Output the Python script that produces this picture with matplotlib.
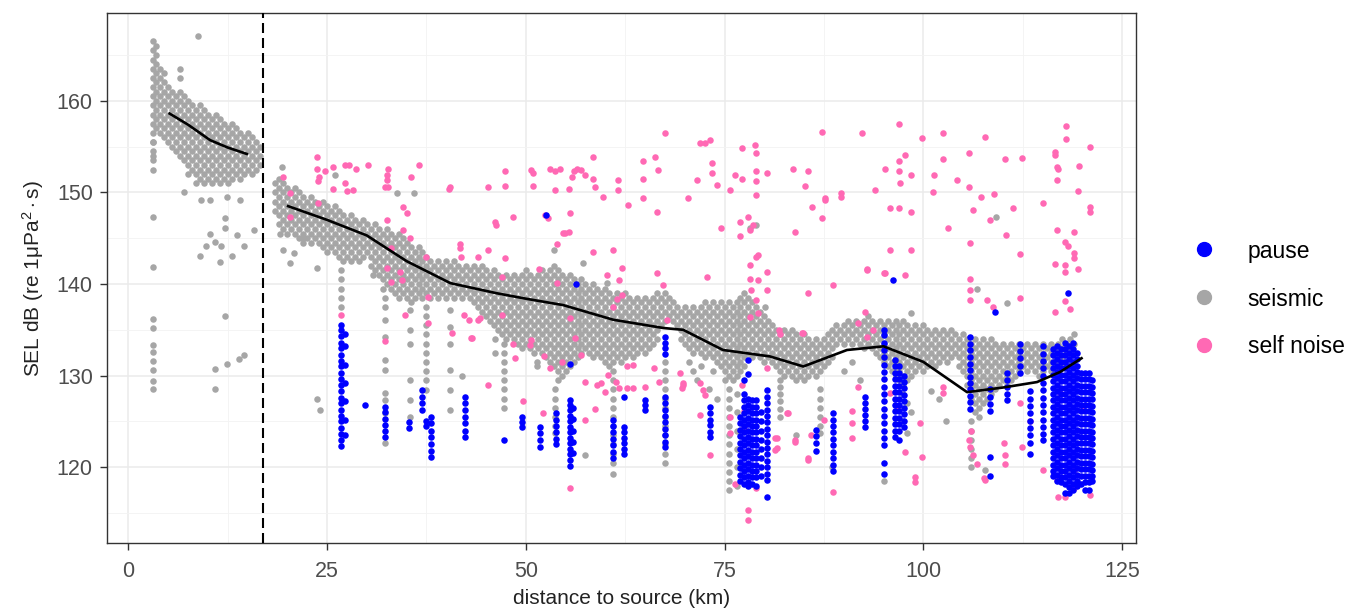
import matplotlib
matplotlib.use("Agg")
import matplotlib.pyplot as plt
from matplotlib.lines import Line2D

plt.rcParams["font.family"] = ["Liberation Sans", "DejaVu Sans"]
plt.rcParams["mathtext.fontset"] = "custom"
plt.rcParams["mathtext.rm"] = "Liberation Sans"
plt.rcParams["mathtext.it"] = "Liberation Sans:italic"

# ---- data ----
# seismic: dense band close to the source (x, [y values])
near_band = [
    (3.1, [166.5, 165.5, 164.5, 163.5, 162.5, 161.5, 160.5, 159.5, 158.5, 157.5, 156.5, 155.5, 154.5, 153.5, 152.5]),
    (3.5, [166, 165, 164, 163, 162, 161, 160, 159, 158, 157]),
    (4.0, [163.5, 162.5, 161.5, 160.5, 159.5, 158.5, 157.5, 156.5]),
    (4.5, [163, 162, 161, 160, 159, 158, 157, 156]),
    (5.0, [161.5, 160.5, 159.5, 158.5, 157.5, 156.5, 155.5]),
    (5.5, [161, 160, 159, 158, 157, 156, 155]),
    (6.0, [160.5, 159.5, 158.5, 157.5, 156.5, 155.5, 154.5]),
    (6.5, [163.5, 162.5, 161, 160, 159, 158, 157, 156, 155, 154]),
    (7.0, [160.5, 159.5, 158.5, 157.5, 156.5, 155.5, 154.5, 153.5]),
    (7.5, [160, 159, 158, 157, 156, 155, 154, 153, 152]),
    (8.0, [159.5, 158.5, 157.5, 156.5, 155.5, 154.5, 153.5, 152.5]),
    (8.5, [159, 158, 157, 156, 155, 154, 153, 152, 151]),
    (9.0, [159.5, 158.5, 157.5, 156.5, 155.5, 154.5, 153.5, 152.5, 151.5]),
    (9.5, [159, 158, 157, 156, 155, 154, 153, 152, 151]),
    (10.0, [158.5, 157.5, 156.5, 155.5, 154.5, 153.5, 152.5, 151.5]),
    (10.5, [158, 157, 156, 155, 154, 153, 152, 151]),
    (11.0, [158.5, 157.5, 156.5, 155.5, 154.5, 153.5, 152.5, 151.5]),
    (11.5, [158, 157, 156, 155, 154, 153, 152, 151]),
    (12.0, [157.5, 156.5, 155.5, 154.5, 153.5, 152.5, 151.5]),
    (12.5, [157, 156, 155, 154, 153, 152, 151]),
    (13.0, [157.5, 156.5, 155.5, 154.5, 153.5, 152.5, 151.5]),
    (13.5, [157, 156, 155, 154, 153, 152]),
    (14.0, [156.5, 155.5, 154.5, 153.5, 152.5, 151.5]),
    (14.5, [156, 155, 154, 153, 152]),
    (15.0, [156.5, 155.5, 154.5, 153.5, 152.5]),
    (15.5, [156, 155, 154, 153, 152]),
    (16.0, [155.5, 154.5, 153.5, 152.5]),
    (16.5, [155, 154, 153]),
]

# seismic: main band beyond the dashed line
far_band = [
    (18.5, [151, 150, 149, 148]), (19.0, [151.5, 150.5, 149.5, 148.5, 147.5, 146.5]),
    (19.5, [151, 150, 149, 148, 147, 146]), (20.0, [150.5, 149.5, 148.5, 147.5, 146.5, 145.5]),
    (20.5, [150, 149, 148, 147, 146]), (21.0, [150.5, 149.5, 148.5, 147.5, 146.5, 145.5]),
    (21.5, [150, 149, 148, 147, 146, 145]), (22.0, [149.5, 148.5, 147.5, 146.5, 145.5, 144.5]),
    (22.5, [149, 148, 147, 146, 145]), (23.0, [149.5, 148.5, 147.5, 146.5, 145.5, 144.5]),
    (23.5, [149, 148, 147, 146, 145]), (24.0, [148.5, 147.5, 146.5, 145.5, 144.5]),
    (24.5, [149, 148, 147, 146, 145, 144]), (25.0, [148.5, 147.5, 146.5, 145.5, 144.5, 143.5]),
    (25.5, [148, 147, 146, 145, 144]), (26.0, [148.5, 147.5, 146.5, 145.5, 144.5, 143.5]),
    (26.5, [148, 147, 146, 145, 144, 143]), (27.0, [147.5, 146.5, 145.5, 144.5, 143.5, 142.5]),
    (27.5, [147, 146, 145, 144, 143]), (28.0, [147.5, 146.5, 145.5, 144.5, 143.5, 142.5]),
    (28.5, [147, 146, 145, 144, 143]), (29.0, [146.5, 145.5, 144.5, 143.5, 142.5]),
    (29.5, [147, 146, 145, 144, 143]), (30.0, [146.5, 145.5, 144.5, 143.5]),
    (30.5, [146, 145, 144, 143, 142]), (31.0, [146.5, 145.5, 144.5, 143.5, 142.5, 141.5]),
    (31.5, [146, 145, 144, 143, 142, 141]), (32.0, [145.5, 144.5, 143.5, 142.5, 141.5, 140.5, 139.5]),
    (32.5, [146, 145, 144, 143, 142, 141, 140]), (33.0, [145.5, 144.5, 143.5, 142.5, 141.5, 140.5, 139.5]),
    (33.5, [145, 144, 143, 142, 141, 140, 139]), (34.0, [145.5, 144.5, 143.5, 142.5, 141.5, 140.5, 139.5, 138.5]),
    (34.5, [145, 144, 143, 142, 141, 140, 139]), (35.0, [144.5, 143.5, 142.5, 141.5, 140.5, 139.5, 138.5]),
    (35.5, [144, 143, 142, 141, 140, 139, 138]), (36.0, [143.5, 142.5, 141.5, 140.5, 139.5, 138.5]),
    (36.5, [144, 143, 142, 141, 140, 139]), (37.0, [143.5, 142.5, 141.5, 140.5, 139.5, 138.5]),
    (37.5, [143, 142, 141, 140, 139]), (38.0, [142.5, 141.5, 140.5, 139.5, 138.5]),
    (38.5, [142, 141, 140, 139]), (39.0, [142.5, 141.5, 140.5, 139.5, 138.5]),
    (39.5, [142, 141, 140, 139]), (40.0, [142.5, 141.5, 140.5, 139.5, 138.5]),
    (40.5, [142, 141, 140, 139]), (41.0, [142.5, 141.5, 140.5, 139.5, 138.5]),
    (41.5, [142, 141, 140, 139]), (42.0, [141.5, 140.5, 139.5, 138.5]),
    (42.5, [142, 141, 140, 139]), (43.0, [141.5, 140.5, 139.5, 138.5]),
    (43.5, [142, 141, 140, 139, 138]), (44.0, [141.5, 140.5, 139.5, 138.5, 137.5]),
    (44.5, [142, 141, 140, 139, 138, 137]), (45.0, [141.5, 140.5, 139.5, 138.5, 137.5, 136.5]),
    (45.5, [141, 140, 139, 138, 137, 136]), (46.0, [141.5, 140.5, 139.5, 138.5, 137.5, 136.5, 135.5]),
    (46.5, [141, 140, 139, 138, 137, 136, 135]), (47.0, [140.5, 139.5, 138.5, 137.5, 136.5, 135.5, 134.5]),
    (47.5, [141, 140, 139, 138, 137, 136, 135, 134]), (48.0, [140.5, 139.5, 138.5, 137.5, 136.5, 135.5, 134.5]),
    (48.5, [141, 140, 139, 138, 137, 136, 135, 134]), (49.0, [140.5, 139.5, 138.5, 137.5, 136.5, 135.5, 134.5, 133.5]),
    (49.5, [141, 140, 139, 138, 137, 136, 135, 134, 133]), (50.0, [141.5, 140.5, 139.5, 138.5, 137.5, 136.5, 135.5, 134.5, 133.5]),
    (50.5, [141, 140, 139, 138, 137, 136, 135, 134, 133]), (51.0, [140.5, 139.5, 138.5, 137.5, 136.5, 135.5, 134.5, 133.5, 132.5]),
    (51.5, [141, 140, 139, 138, 137, 136, 135, 134, 133]), (52.0, [141.5, 140.5, 139.5, 138.5, 137.5, 136.5, 135.5, 134.5, 133.5, 132.5]),
    (52.5, [141, 140, 139, 138, 137, 136, 135, 134, 133, 132]), (53.0, [141.5, 140.5, 139.5, 138.5, 137.5, 136.5, 135.5, 134.5, 133.5, 132.5, 131.5]),
    (53.5, [142, 141, 140, 139, 138, 137, 136, 135, 134, 133, 132, 131]),
    (54.0, [141.5, 140.5, 139.5, 138.5, 137.5, 136.5, 135.5, 134.5, 133.5, 132.5, 131.5, 130.5, 129.5]),
    (54.5, [141, 140, 139, 138, 137, 136, 135, 134, 133, 132, 131, 130]),
    (55.0, [140.5, 139.5, 138.5, 137.5, 136.5, 135.5, 134.5, 133.5, 132.5, 131.5, 130.5]),
    (55.5, [141, 140, 139, 138, 137, 136, 135, 134, 133, 132, 131]),
    (56.0, [140.5, 139.5, 138.5, 137.5, 136.5, 135.5, 134.5, 133.5, 132.5, 131.5]),
    (56.5, [140, 139, 138, 137, 136, 135, 134, 133, 132]),
    (57.0, [140.5, 139.5, 138.5, 137.5, 136.5, 135.5, 134.5, 133.5, 132.5]),
    (57.5, [140, 139, 138, 137, 136, 135, 134, 133]),
    (58.0, [139.5, 138.5, 137.5, 136.5, 135.5, 134.5, 133.5, 132.5]),
    (58.5, [140, 139, 138, 137, 136, 135, 134, 133, 132]),
    (59.0, [139.5, 138.5, 137.5, 136.5, 135.5, 134.5, 133.5, 132.5]),
    (59.5, [139, 138, 137, 136, 135, 134, 133, 132]),
    (60.0, [139.5, 138.5, 137.5, 136.5, 135.5, 134.5, 133.5, 132.5, 131.5]),
    (60.5, [139, 138, 137, 136, 135, 134, 133, 132, 131]),
    (61.0, [138.5, 137.5, 136.5, 135.5, 134.5, 133.5, 132.5, 131.5]),
    (61.5, [139, 138, 137, 136, 135, 134, 133, 132]),
    (62.0, [138.5, 137.5, 136.5, 135.5, 134.5, 133.5, 132.5, 131.5]),
    (62.5, [139, 138, 137, 136, 135, 134, 133, 132]),
    (63.0, [138.5, 137.5, 136.5, 135.5, 134.5, 133.5, 132.5]),
    (63.5, [138, 137, 136, 135, 134, 133, 132]),
    (64.0, [138.5, 137.5, 136.5, 135.5, 134.5, 133.5, 132.5]),
    (64.5, [138, 137, 136, 135, 134, 133]),
    (65.0, [138.5, 137.5, 136.5, 135.5, 134.5, 133.5, 132.5]),
    (65.5, [138, 137, 136, 135, 134, 133]),
    (66.0, [138.5, 137.5, 136.5, 135.5, 134.5, 133.5]),
    (66.5, [139, 138, 137, 136, 135, 134]),
    (67.0, [138.5, 137.5, 136.5, 135.5]), (67.5, [139, 138, 137, 136]),
    (68.0, [138.5, 137.5, 136.5]), (68.5, [138, 137, 136]),
    (69.0, [137.5, 136.5, 135.5]), (69.5, [137, 136, 135, 134]),
    (70.0, [137.5, 136.5, 135.5, 134.5, 133.5]), (70.5, [137, 136, 135, 134, 133]),
    (71.0, [137.5, 136.5, 135.5, 134.5, 133.5, 132.5]), (71.5, [137, 136, 135, 134, 133]),
    (72.0, [137.5, 136.5, 135.5, 134.5, 133.5, 132.5]), (72.5, [138, 137, 136, 135, 134, 133, 132]),
    (73.0, [137.5, 136.5, 135.5, 134.5, 133.5, 132.5]), (73.5, [138, 137, 136, 135, 134, 133, 132]),
    (74.0, [137.5, 136.5, 135.5, 134.5, 133.5, 132.5, 131.5]),
    (74.5, [138, 137, 136, 135, 134, 133, 132, 131]),
    (75.0, [137.5, 136.5, 135.5, 134.5, 133.5, 132.5, 131.5, 130.5, 129.5]),
    (75.5, [138, 137, 136, 135, 134, 133, 132, 131, 130]),
    (76.0, [137.5, 136.5, 135.5, 134.5, 133.5, 132.5, 131.5, 130.5, 129.5]),
    (76.5, [138, 137, 136, 135, 134, 133, 132, 131, 130]),
    (77.0, [138.5, 137.5, 136.5, 135.5, 134.5, 133.5, 132.5, 131.5, 130.5]),
    (77.5, [139, 138, 137, 136, 135, 134, 133, 132, 131]),
    (78.0, [138.5, 137.5, 136.5, 135.5, 134.5, 133.5, 132.5]),
    (78.5, [138, 137, 136, 135, 134, 133, 132]),
    (79.0, [137.5, 136.5, 135.5, 134.5, 133.5, 132.5]), (79.5, [137, 136, 135, 134, 133, 132]),
    (80.0, [136.5, 135.5, 134.5, 133.5, 132.5, 131.5]), (80.5, [136, 135, 134, 133, 132]),
    (81.0, [135.5, 134.5, 133.5, 132.5, 131.5]), (81.5, [135, 134, 133, 132, 131]),
    (82.0, [134.5, 133.5, 132.5, 131.5, 130.5]), (82.5, [135, 134, 133, 132, 131, 130]),
    (83.0, [134.5, 133.5, 132.5, 131.5, 130.5]), (83.5, [135, 134, 133, 132, 131, 130]),
    (84.0, [134.5, 133.5, 132.5, 131.5, 130.5, 129.5]), (84.5, [134, 133, 132, 131, 130]),
    (85.0, [134.5, 133.5, 132.5, 131.5, 130.5, 129.5]), (85.5, [134, 133, 132, 131, 130]),
    (86.0, [133.5, 132.5, 131.5, 130.5]), (86.5, [134, 133, 132, 131, 130]),
    (87.0, [133.5, 132.5, 131.5, 130.5]), (87.5, [134, 133, 132, 131]),
    (88.0, [134.5, 133.5, 132.5, 131.5]), (88.5, [135, 134, 133, 132]),
    (89.0, [135.5, 134.5, 133.5]), (89.5, [135, 134]),
    (90.0, [135.5, 134.5, 133.5]), (90.5, [136, 135, 134]),
    (91.0, [135.5, 134.5, 133.5]), (91.5, [136, 135, 134]),
    (92.0, [135.5, 134.5, 133.5]), (92.5, [136, 135, 134, 133]),
    (93.0, [136.5, 135.5, 134.5, 133.5]), (93.5, [136, 135, 134, 133]),
    (94.0, [135.5, 134.5, 133.5, 132.5]), (94.5, [136, 135, 134, 133, 132]),
    (95.0, [135.5, 134.5, 133.5, 132.5, 131.5]), (95.5, [136, 135, 134, 133, 132, 131]),
    (96.0, [135.5, 134.5, 133.5, 132.5, 131.5, 130.5]),
    (96.5, [136, 135, 134, 133, 132, 131, 130]),
    (97.0, [135.5, 134.5, 133.5, 132.5, 131.5, 130.5, 129.5]),
    (97.5, [136, 135, 134, 133, 132, 131, 130, 129]),
    (98.0, [135.5, 134.5, 133.5, 132.5, 131.5, 130.5, 129.5]),
    (98.5, [135, 134, 133, 132, 131, 130]),
    (99.0, [135.5, 134.5, 133.5, 132.5, 131.5, 130.5]), (99.5, [135, 134, 133, 132, 131]),
    (100.0, [135.5, 134.5, 133.5, 132.5, 131.5, 130.5]), (100.5, [135, 134, 133, 132, 131]),
    (101.0, [134.5, 133.5, 132.5, 131.5]), (101.5, [135, 134, 133, 132, 131]),
    (102.0, [134.5, 133.5, 132.5, 131.5]), (102.5, [135, 134, 133, 132]),
    (103.0, [134.5, 133.5, 132.5, 131.5]), (103.5, [135, 134, 133, 132]),
    (104.0, [134.5, 133.5, 132.5]), (104.5, [134, 133, 132, 131]),
    (105.0, [134.5, 133.5, 132.5, 131.5, 130.5]), (105.5, [134, 133, 132, 131, 130, 129]),
    (106.0, [133.5, 132.5, 131.5, 130.5, 129.5, 128.5, 127.5]),
    (106.5, [134, 133, 132, 131, 130, 129, 128, 127, 126]),
    (107.0, [133.5, 132.5, 131.5, 130.5, 129.5, 128.5, 127.5, 126.5, 125.5]),
    (107.5, [134, 133, 132, 131, 130, 129, 128, 127]),
    (108.0, [133.5, 132.5, 131.5, 130.5, 129.5, 128.5, 127.5]),
    (108.5, [134, 133, 132, 131, 130, 129, 128]),
    (109.0, [133.5, 132.5, 131.5, 130.5, 129.5, 128.5]), (109.5, [133, 132, 131, 130, 129]),
    (110.0, [133.5, 132.5, 131.5, 130.5, 129.5]), (110.5, [133, 132, 131, 130, 129]),
    (111.0, [133.5, 132.5, 131.5, 130.5, 129.5]), (111.5, [133, 132, 131, 130]),
    (112.0, [133.5, 132.5, 131.5, 130.5]), (112.5, [133, 132, 131]),
    (113.0, [133.5, 132.5, 131.5, 130.5]), (113.5, [133, 132, 131]),
    (114.0, [133.5, 132.5, 131.5, 130.5]), (114.5, [133, 132, 131, 130]),
    (115.0, [133.5, 132.5, 131.5, 130.5]), (115.5, [133, 132, 131]),
    (116.0, [133.5, 132.5, 131.5, 130.5]), (116.5, [133, 132, 131]),
    (117.0, [133.5, 132.5, 131.5, 130.5]), (117.5, [134, 133, 132, 131]),
    (118.0, [133.5, 132.5, 131.5]), (118.5, [134, 133, 132]),
    (119.0, [134.5, 133.5, 132.5, 131.5]),
]

# seismic: sparse vertical streaks below the band
seismic_streaks = [
    (3.1, [136.2, 135.2, 133.3, 132.6, 131.6, 130.6, 129.4, 128.5]),
    (26.8, [141.5, 140.5, 139.5, 138.5, 137.5]),
    (32.3, [138.5, 137.5, 136.1, 134.2, 131.7, 130.6, 128.1, 127.3, 125.9, 122.6]),
    (35.4, [137.2, 135.0, 133.5, 129.5, 127.3, 125.5]),
    (37.5, [137.5, 136.5, 135.5, 134.5, 133.5, 132.5, 131.5, 130.5, 129.5, 128.4]),
    (40.5, [137.2, 135.3, 133.5, 130.6, 128.4, 126.2]),
    (47.2, [133.5, 132.5, 131.5, 130.5, 129.5, 128.5, 127.5, 126.5]),
    (53.7, [128.5, 127.5, 126.5, 125.5, 124.5, 123.7]),
    (61.0, [130.5, 129.5, 128.5, 127.5, 126.5, 125.5, 124.5, 123.5, 122.5, 121.5, 120.5, 119.3]),
    (67.5, [131.5, 130.5, 129.5, 128.5, 127.5, 126.5, 125.5, 124.5, 123.5, 122.5, 121.5, 120.5]),
    (75.5, [128.5, 127.5, 126.5, 125.5, 124.5, 123.5, 122.5, 121.5, 120.5, 119.5, 118.5, 117.5]),
    (76.5, [128, 126, 124, 122, 120, 118]),
    (82.0, [129.5, 128.8, 128.0, 127.2, 126.4, 125.5]),
    (87.0, [128.5, 127.5, 126.5, 125.5, 124.5, 123.7]),
    (106.0, [125, 124, 123, 122, 121, 120]),
]

seismic_pts = [
    (8.8, 167.1), (7.0, 150.0), (3.1, 147.3), (3.1, 141.9), (3.1, 154.0), (3.1, 155.5),
    (9.2, 149.2), (10.3, 149.2), (12.4, 149.5), (14.1, 149.2), (12.2, 147.2), (12.2, 146.1),
    (10.3, 145.5), (13.7, 145.3), (15.8, 145.9), (10.9, 144.6), (11.7, 144.1), (9.0, 143.1),
    (9.8, 144.1), (13.0, 143.1), (14.5, 144.2), (11.5, 142.4),
    (12.2, 136.5), (10.9, 130.7), (12.4, 131.3), (13.9, 131.8), (14.5, 132.2), (10.9, 128.5),
    (19.5, 143.7), (20.8, 143.4), (20.3, 142.3), (22.0, 145.0), (23.7, 141.7), (19.1, 145.5),
    (23.7, 127.5), (24.1, 126.2), (19.3, 152.8), (26.0, 151.9), (33.8, 149.9), (35.9, 149.9),
    (30.8, 141.0), (42.0, 130.0), (46.1, 134.0), (46.1, 132.5), (51.4, 131.5), (51.4, 131.0),
    (57.4, 121.3), (57.2, 142.3), (53.5, 143.7), (60.2, 140.1),
    (70.5, 131.5), (71.0, 130.5), (72.0, 131.0), (73.5, 130.5), (71.5, 129.5), (73.0, 128.5), (74.0, 127.5),
    (78.2, 146.1), (79.0, 146.4), (80.1, 137.5), (84.0, 123.5), (91.0, 131.5), (90.0, 130.5), (92.0, 129.5),
    (109.2, 147.3), (106.7, 139.5), (110.5, 137.9), (98.5, 136.8),
    (97.5, 128.0), (98.0, 127.0), (98.5, 126.0), (97.5, 125.0), (98.0, 123.7),
    (102.9, 125.0), (102.0, 127.5), (101.0, 128.3), (107.8, 119.7), (95.0, 118.5), (88.5, 120.0),
]

# pause
pause_cols = [
    (26.8, [135.5, 135, 134.3, 133.6, 133, 132.3, 131.6, 131, 130.3, 129.6, 129, 128.3, 127.6,
            127, 126.3, 125.6, 125, 124.3, 123.6, 123, 122.3]),
    (27.2, [134.5, 133.2, 131.2, 129.2, 127.2, 125.2, 123.5]),
    (32.3, [126.6, 126, 125.3, 124.6, 124, 123.3]),
    (35.3, [124.9, 124.3]),
    (36.9, [128.4, 127.7, 127, 126.3]),
    (37.5, [125, 124.5]),
    (38.1, [125.5, 124.8, 124, 123.3, 122.5, 121.8, 121.1]),
    (42.4, [127.7, 127, 126.3, 125.5, 124.8, 124, 123.3]),
    (49.5, [125.5, 124.9, 124.4]),
    (51.8, [124.4, 123.7, 123, 122.2]),
    (53.8, [125.9, 125.2, 124.5, 123.8, 123.1, 122.5]),
    (55.6, [127.3, 126.8, 126.2, 125.6, 125, 124.4, 123.8, 123.2, 122.6, 122, 121.4, 120.8, 120.1]),
    (55.9, [126.5, 125.3, 124, 122.8, 121.6]),
    (61.0, [125.2, 124.5, 123.8, 123.1, 122.4, 121.7, 121]),
    (62.3, [127.7, 124.4, 123.8, 123.2, 122.6, 122, 121.4]),
    (65.0, [127.3, 126.8, 126.2]),
    (67.5, [134.2, 133.6, 133, 132.4, 127.7, 127, 126.3, 125.6, 124.9, 124.2, 123.5, 122.8, 122.2]),
    (73.2, [126.6, 125.9, 125.2, 124.6, 123.9, 123.3]),
    (76.9, [125.5, 124.8, 124.1, 123.4, 122.7, 122.0, 121.3, 120.6, 119.9, 119.2, 118.5]),
    (77.4, [129.5, 128.0, 127.3, 126.6, 125.9, 125.2, 124.5, 123.8, 123.1, 122.4, 121.7, 121.0,
            120.3, 119.6, 118.9, 118.2]),
    (77.9, [131.7, 130.2, 127.5, 126.8, 126.1, 125.4, 124.7, 124.0, 123.3, 122.6, 121.9, 121.2,
            120.5, 119.8, 119.1, 118.4, 117.9]),
    (78.5, [127.3, 126.6, 125.9, 125.2, 124.5, 123.8, 123.1, 122.4, 121.7, 121.0, 120.3, 119.6, 118.9, 118.2]),
    (79.0, [127.3, 126.6, 125.9, 125.2, 124.5, 123.8, 123.1, 122.4, 121.7, 121.0, 120.3, 119.6, 118.9, 117.9]),
    (79.6, [126.0, 125.0, 124.0, 123.0, 122.0, 121.0, 120.0, 119.0]),
    (80.3, [128.4, 127.7, 127.0, 126.3, 125.6, 124.9, 124.2, 123.5, 122.8, 122.1, 121.4, 120.7,
            120.0, 119.3, 118.6, 116.8]),
    (86.5, [124.1, 123.4, 122.6, 121.8]),
    (88.6, [125.9, 125.2, 124.5, 123.8, 123.1, 122.4, 121.7, 121, 120.3, 119.6]),
    (92.6, [127.7, 127, 126.4, 125.7, 125.1, 124.4]),
    (95.0, [135, 134.4, 133.6, 132.8, 132, 131.2, 130.4, 129.6, 128.8, 128, 127.2, 126.4, 125.6,
            124.8, 124, 123.2, 122.4, 120.5, 119.3]),
    (96.4, [131.7, 131.0, 130.3, 129.6, 128.9, 128.2, 127.5, 126.8, 126.1, 125.4, 124.7, 124.0, 123.3]),
    (97.0, [131.0, 130.3, 129.6, 128.9, 128.2, 127.5, 126.8, 126.1, 125.4, 124.7, 124.0, 123.0]),
    (97.6, [130.0, 129.3, 128.6, 127.9, 127.2, 126.5, 125.8, 125.1, 124.4]),
    (105.9, [134.2, 133.5, 132.8, 132, 131.3, 130.6, 129.9, 129.2, 128.5, 127.8, 127.1, 126.4]),
    (108.4, [128.5, 127.7, 126.9, 126.1, 121.1, 119.1]),
    (110.5, [130.3, 129.5, 128.8, 128.0, 127.3]),
    (112.2, [133.5, 132.7, 131.9, 131.1, 130.3]),
    (113.4, [128.3, 127.5, 126.7, 125.9, 125.1, 124.3, 123.5, 122.7, 121.5]),
    (115.1, [133.2, 132.4, 131.6, 130.8, 130, 129.2, 128.4, 127.6, 126.8, 126, 125.2, 124.4, 123.6, 123.0]),
    (116.3, [132.9, 132.2, 131.5, 130.8, 130.1, 129.4, 128.7, 128.0, 127.3, 126.6, 125.9, 125.2,
             124.5, 123.8, 123.1, 122.4, 121.7, 121.0, 120.3, 119.6, 119.1]),
    (116.8, [133.2, 132.5, 131.8, 131.1, 130.4, 129.7, 129.0, 128.3, 127.6, 126.9, 126.2, 125.5,
             124.8, 124.1, 123.4, 122.7, 122.0, 121.3, 120.6, 119.9, 119.2, 118.5]),
    (117.3, [132.9, 132.2, 131.5, 130.8, 130.1, 129.4, 128.7, 128.0, 127.3, 126.6, 125.9, 125.2,
             124.5, 123.8, 123.1, 122.4, 121.7, 121.0, 120.3, 119.6, 118.9, 118.4]),
    (117.8, [133.6, 132.9, 132.2, 131.5, 130.8, 130.1, 129.4, 128.7, 128.0, 127.3, 126.6, 125.9,
             125.2, 124.5, 123.8, 123.1, 122.4, 121.7, 121.0, 120.3, 119.6, 118.9, 118.2, 117.2]),
    (118.3, [133.2, 132.5, 131.8, 131.1, 130.4, 129.7, 129.0, 128.3, 127.6, 126.9, 126.2, 125.5,
             124.8, 124.1, 123.4, 122.7, 122.0, 121.3, 120.6, 119.9, 119.2, 118.5, 117.8, 117.2]),
    (118.8, [133.6, 132.9, 132.2, 131.5, 130.8, 130.1, 129.4, 128.7, 128.0, 127.3, 126.6, 125.9,
             125.2, 124.5, 123.8, 123.1, 122.4, 121.7, 121.0, 120.3, 119.6, 118.9, 118.2, 117.5]),
    (119.3, [132.5, 131.8, 131.1, 130.4, 129.7, 129.0, 128.3, 127.6, 126.9, 126.2, 125.5, 124.8,
             124.1, 123.4, 122.7, 122.0, 121.3, 120.6, 119.9, 119.2, 118.5, 118.0]),
    (119.8, [130.3, 129.6, 128.9, 128.2, 127.5, 126.8, 126.1, 125.4, 124.7, 124.0, 123.3, 122.6,
             121.9, 121.2, 120.5, 119.8, 119.1, 118.2]),
    (120.3, [130.3, 129.6, 128.9, 128.2, 127.5, 126.8, 126.1, 125.4, 124.7, 124.0, 123.3, 122.6,
             121.9, 121.2, 120.5, 119.8, 119.1, 118.4, 117.5]),
    (120.8, [130.3, 129.6, 128.9, 128.2, 127.5, 126.8, 126.1, 125.4, 124.7, 124.0, 123.3, 122.6,
             121.9, 121.2, 120.5, 119.8, 119.1, 118.4, 117.5]),
    (121.2, [129.5, 128.8, 128.1, 127.4, 126.7, 126.0, 125.3, 124.6, 123.9, 123.2, 122.5, 121.8,
             121.1, 120.4, 119.7, 119.0, 118.5]),
]
pause_pts = [(29.8, 126.8), (47.2, 123.0), (52.6, 147.5), (56.3, 140.0), (55.5, 131.3),
             (96.2, 140.4), (109.0, 137.0), (118.2, 139.0)]

# self noise
noise_pts = [
    (19.5, 151.7), (20.3, 149.9), (20.3, 147.3), (23.7, 153.9), (23.7, 152.6), (24.7, 152.3),
    (25.8, 152.8), (27.3, 153.0), (27.7, 153.0), (28.7, 152.6), (30.2, 153.0), (32.7, 152.6),
    (32.5, 151.9), (35.6, 151.7), (36.5, 153.0), (23.8, 151.2), (24.0, 151.7), (27.3, 151.0),
    (27.5, 150.1), (28.3, 150.3), (25.7, 150.4), (23.8, 148.8), (32.3, 150.6), (32.5, 151.4),
    (32.7, 150.6), (34.6, 148.4), (35.0, 147.7), (32.5, 147.0), (40.3, 150.4),
    (33.1, 143.9), (32.5, 141.7), (34.6, 145.9), (35.4, 145.0), (37.5, 143.0), (37.7, 138.6),
    (34.4, 140.4), (33.1, 140.2), (34.2, 141.3), (41.7, 144.4), (41.7, 143.9), (41.9, 143.0),
    (34.8, 136.6), (37.7, 135.7), (40.7, 134.6), (42.2, 136.6), (42.9, 136.1), (43.1, 134.1),
    (44.0, 143.0), (44.0, 136.1), (26.8, 136.6), (32.3, 133.8),
    (40.5, 150.6), (45.3, 150.6), (47.4, 152.3), (47.4, 150.7), (50.7, 152.4), (50.9, 152.1),
    (50.9, 150.7), (53.0, 152.6), (53.7, 152.3), (54.3, 152.6), (56.0, 152.3), (56.4, 152.6),
    (57.0, 152.4), (55.8, 151.7), (57.4, 151.9), (53.7, 150.3), (55.4, 150.4),
    (58.5, 153.9), (58.5, 151.5), (59.7, 149.5), (58.7, 150.6), (61.6, 151.4), (61.6, 150.3),
    (62.9, 148.6), (64.8, 153.4), (64.8, 151.5), (64.8, 149.4), (66.3, 153.9), (66.6, 152.4),
    (66.5, 147.9), (67.5, 156.5), (70.4, 149.4), (71.5, 151.4),
    (71.9, 155.4), (72.5, 155.4), (73.2, 155.7), (73.4, 153.2), (73.4, 152.1), (74.0, 150.8),
    (75.7, 150.3), (76.3, 151.9), (77.2, 154.8), (77.2, 151.5), (78.8, 155.2), (79.0, 154.3),
    (79.0, 152.3), (79.0, 151.2), (79.0, 149.7), (80.3, 152.1),
    (46.1, 146.8), (46.3, 146.4), (48.4, 147.3), (52.4, 147.5), (52.8, 147.2), (55.6, 147.7),
    (55.4, 145.7), (54.7, 145.6), (53.9, 144.4), (54.9, 145.6),
    (45.3, 143.7), (47.4, 142.8), (58.5, 143.5), (61.0, 143.7), (62.1, 141.7), (60.2, 141.0),
    (61.7, 140.4), (51.6, 141.6), (47.0, 140.8), (53.9, 140.1), (66.5, 141.2), (67.3, 139.9),
    (67.7, 136.1), (62.1, 138.8), (61.5, 138.4), (61.0, 137.5), (44.2, 136.3), (43.2, 134.1),
    (47.0, 136.6), (48.4, 133.5), (50.7, 133.9), (50.5, 133.3), (48.6, 131.9), (55.6, 136.3),
    (56.2, 134.1), (57.0, 132.3), (52.3, 132.1), (53.0, 130.8), (54.5, 131.5),
    (57.4, 129.3), (58.9, 129.0), (59.5, 129.2), (59.9, 128.2), (61.3, 129.3), (62.7, 128.6),
    (63.5, 128.6), (61.7, 128.6), (62.7, 131.0), (63.5, 131.2), (66.1, 130.8), (65.0, 128.8),
    (60.3, 130.1), (66.8, 129.3), (69.4, 130.3), (69.8, 129.0), (69.6, 128.6),
    (45.3, 129.0), (49.7, 127.2), (52.2, 125.9), (58.7, 126.4), (57.4, 125.2), (55.6, 117.7),
    (74.6, 146.1), (76.9, 146.8), (78.0, 147.3), (78.2, 145.9), (76.9, 145.2), (78.6, 146.4),
    (79.2, 143.2), (78.2, 142.1), (78.2, 140.6), (79.2, 140.4), (78.3, 139.3), (80.3, 141.3),
    (80.3, 139.4), (79.0, 138.3), (79.2, 136.8), (78.2, 136.4), (72.8, 140.8), (79.0, 143.0),
    (81.8, 135.0), (83.9, 145.7), (86.0, 148.4), (87.2, 147.2), (87.6, 149.2), (88.7, 139.9),
    (85.5, 139.0), (92.7, 137.0), (91.8, 135.7), (92.9, 134.2), (93.7, 135.0), (84.9, 134.6),
    (92.9, 141.5), (95.0, 141.2), (95.8, 143.7), (95.8, 148.3),
    (69.8, 129.2), (71.9, 129.2), (72.3, 128.4), (72.5, 127.9), (71.9, 125.7), (73.2, 121.3),
    (77.2, 129.0), (77.4, 126.1), (75.7, 125.5), (75.7, 123.7), (77.4, 124.4), (76.3, 118.2),
    (78.0, 115.3), (78.0, 114.2), (79.0, 117.7), (80.3, 130.8), (81.6, 123.2), (81.6, 122.1),
    (83.0, 125.9), (83.9, 123.0), (85.5, 121.0), (85.9, 123.5), (87.5, 125.2), (88.7, 117.3),
    (91.8, 128.8), (91.0, 126.1), (91.0, 124.8), (91.0, 123.2), (95.8, 128.1), (96.8, 126.2),
    (87.2, 156.6), (92.3, 156.5), (96.9, 157.5), (99.8, 155.9), (102.5, 156.5), (107.7, 156.1),
    (118.0, 157.2), (118.0, 155.8), (121.0, 155.0), (116.6, 154.4), (116.6, 154.1), (96.9, 153.4),
    (97.7, 154.1), (102.5, 153.7), (105.8, 154.3), (110.3, 153.7), (112.4, 153.8),
    (83.6, 152.6), (85.5, 152.3), (85.1, 150.7), (87.6, 149.4), (89.6, 149.9), (89.6, 149.5),
    (93.9, 150.3), (95.2, 152.6), (96.9, 152.3), (97.1, 151.0), (98.4, 151.9), (96.9, 148.3),
    (98.5, 147.9), (101.3, 151.9), (101.2, 150.0), (104.2, 151.3), (105.8, 150.6), (107.3, 149.5),
    (108.9, 149.8), (108.4, 147.0), (106.2, 148.1), (110.4, 145.3), (111.3, 148.3), (115.0, 148.8),
    (116.8, 152.8), (116.8, 151.4), (117.0, 152.6), (119.6, 152.9), (119.5, 150.1), (121.0, 148.4),
    (121.0, 147.9), (103.1, 146.1), (105.9, 144.5), (112.2, 143.3), (116.8, 145.9), (118.9, 145.7),
    (117.8, 144.6), (118.2, 144.1), (118.9, 143.4), (118.9, 142.8), (116.6, 142.2), (117.8, 142.1),
    (117.8, 141.3), (119.5, 141.6), (116.6, 136.9), (117.8, 138.1), (118.4, 137.3),
    (98.5, 143.7), (92.9, 141.6), (95.2, 141.2), (97.7, 141.0), (105.9, 140.6), (105.9, 139.3),
    (105.9, 138.3), (108.0, 138.3), (108.7, 137.5), (112.2, 138.5), (84.7, 134.6), (82.0, 134.5),
    (82.8, 125.9), (81.3, 123.2), (81.3, 121.9), (83.9, 122.8), (85.5, 120.8), (97.7, 121.7),
    (99.6, 124.8), (99.8, 121.1), (99.0, 118.9), (99.0, 118.4), (102.5, 128.8), (102.5, 128.1),
    (105.9, 122.2), (106.3, 121.3), (106.7, 120.4), (107.8, 118.6), (107.6, 118.8), (105.7, 123.0),
    (106.0, 124.0), (110.1, 122.6), (110.3, 121.3), (110.3, 120.4), (112.2, 127.0), (113.4, 125.0),
    (112.4, 122.2), (115.0, 119.7), (116.8, 118.6), (117.8, 116.8), (117.0, 116.8), (118.9, 117.7),
    (118.9, 119.7), (121.0, 117.0), (117.2, 128.1), (120.1, 126.2),
]

# smoothed trend lines
trend_near_x = [5.2, 7.5, 10.3, 12.5, 14.9]
trend_near_y = [158.6, 157.4, 155.7, 154.9, 154.2]
trend_far_x = [20.1, 25.0, 30.0, 35.0, 40.5, 46.3, 50.0, 54.7, 61.0, 67.3, 69.8, 74.8, 80.7,
               84.9, 90.4, 95.0, 100.0, 105.5, 110.0, 114.3, 117.2, 119.9]
trend_far_y = [148.5, 147.0, 145.3, 142.5, 140.1, 139.0, 138.4, 137.7, 136.1, 135.2, 135.0, 132.8, 132.1,
               131.0, 132.8, 133.2, 131.5, 128.2, 128.7, 129.3, 130.4, 131.9]

near_field_limit = 16.9


def flatten_cols(cols):
    xs, ys = [], []
    for x, col in cols:
        xs += [x] * len(col)
        ys += list(col)
    return xs, ys


sx, sy = flatten_cols(near_band + far_band + seismic_streaks)
sx += [p[0] for p in seismic_pts]
sy += [p[1] for p in seismic_pts]
px, py = flatten_cols(pause_cols)
px += [p[0] for p in pause_pts]
py += [p[1] for p in pause_pts]
nx = [p[0] for p in noise_pts]
ny = [p[1] for p in noise_pts]

c_pause = "#0000FF"
c_seis = "#A6A6A6"
c_noise = "#FF69B4"

fig = plt.figure(figsize=(13.53, 6.10), dpi=100)
ax = fig.add_axes([106.7 / 1353, 1 - 543.3 / 610, (1136 - 106.7) / 1353, (543.3 - 13.3) / 610])

ms = 22
ax.scatter(sx, sy, s=ms, color=c_seis, linewidths=0, zorder=2)
ax.scatter(nx, ny, s=ms, color=c_noise, linewidths=0, zorder=3)
ax.scatter(px, py, s=ms, color=c_pause, linewidths=0, zorder=4)

ax.plot(trend_near_x, trend_near_y, color="black", lw=1.9, zorder=5)
ax.plot(trend_far_x, trend_far_y, color="black", lw=1.9, zorder=5)
ax.axvline(near_field_limit, color="black", lw=1.5, linestyle=(0, (4.8, 2.4)), zorder=5)

ax.set_xlim(-2.72, 126.75)
ax.set_ylim(111.7, 169.55)
ax.set_xticks([0, 25, 50, 75, 100, 125])
ax.set_yticks([120, 130, 140, 150, 160])
ax.set_xticks([12.5, 37.5, 62.5, 87.5, 112.5], minor=True)
ax.set_yticks([115, 125, 135, 145, 155, 165], minor=True)
ax.grid(which="major", color="#EBEBEB", lw=1.1, zorder=0)
ax.grid(which="minor", color="#F3F3F3", lw=0.6, zorder=0)
ax.set_axisbelow(True)
ax.tick_params(which="minor", length=0)
ax.tick_params(which="major", length=5, width=1, color="#333333", labelcolor="#4D4D4D",
               labelsize=15.5, pad=5)
ax.tick_params(axis="x", pad=8)
for sp in ax.spines.values():
    sp.set_color("#333333")
    sp.set_linewidth(1.0)

ax.set_xlabel("distance to source (km)", fontsize=15, color="#222222", labelpad=5)
ax.set_ylabel(r"SEL dB (re 1μPa$^{2}\cdot$s)", fontsize=15, color="#222222", labelpad=8)

handles = [Line2D([], [], marker="o", ls="", color=c, markersize=10) for c in (c_pause, c_seis, c_noise)]
fig.legend(handles, ["pause", "seismic", "self noise"], loc="center left",
           bbox_to_anchor=(1193 / 1353, 1 - 299 / 610), frameon=False, fontsize=16.5,
           handlelength=1.0, handletextpad=1.38, labelspacing=1.09, borderpad=0, borderaxespad=0)

fig.savefig("out.png", dpi=100)
